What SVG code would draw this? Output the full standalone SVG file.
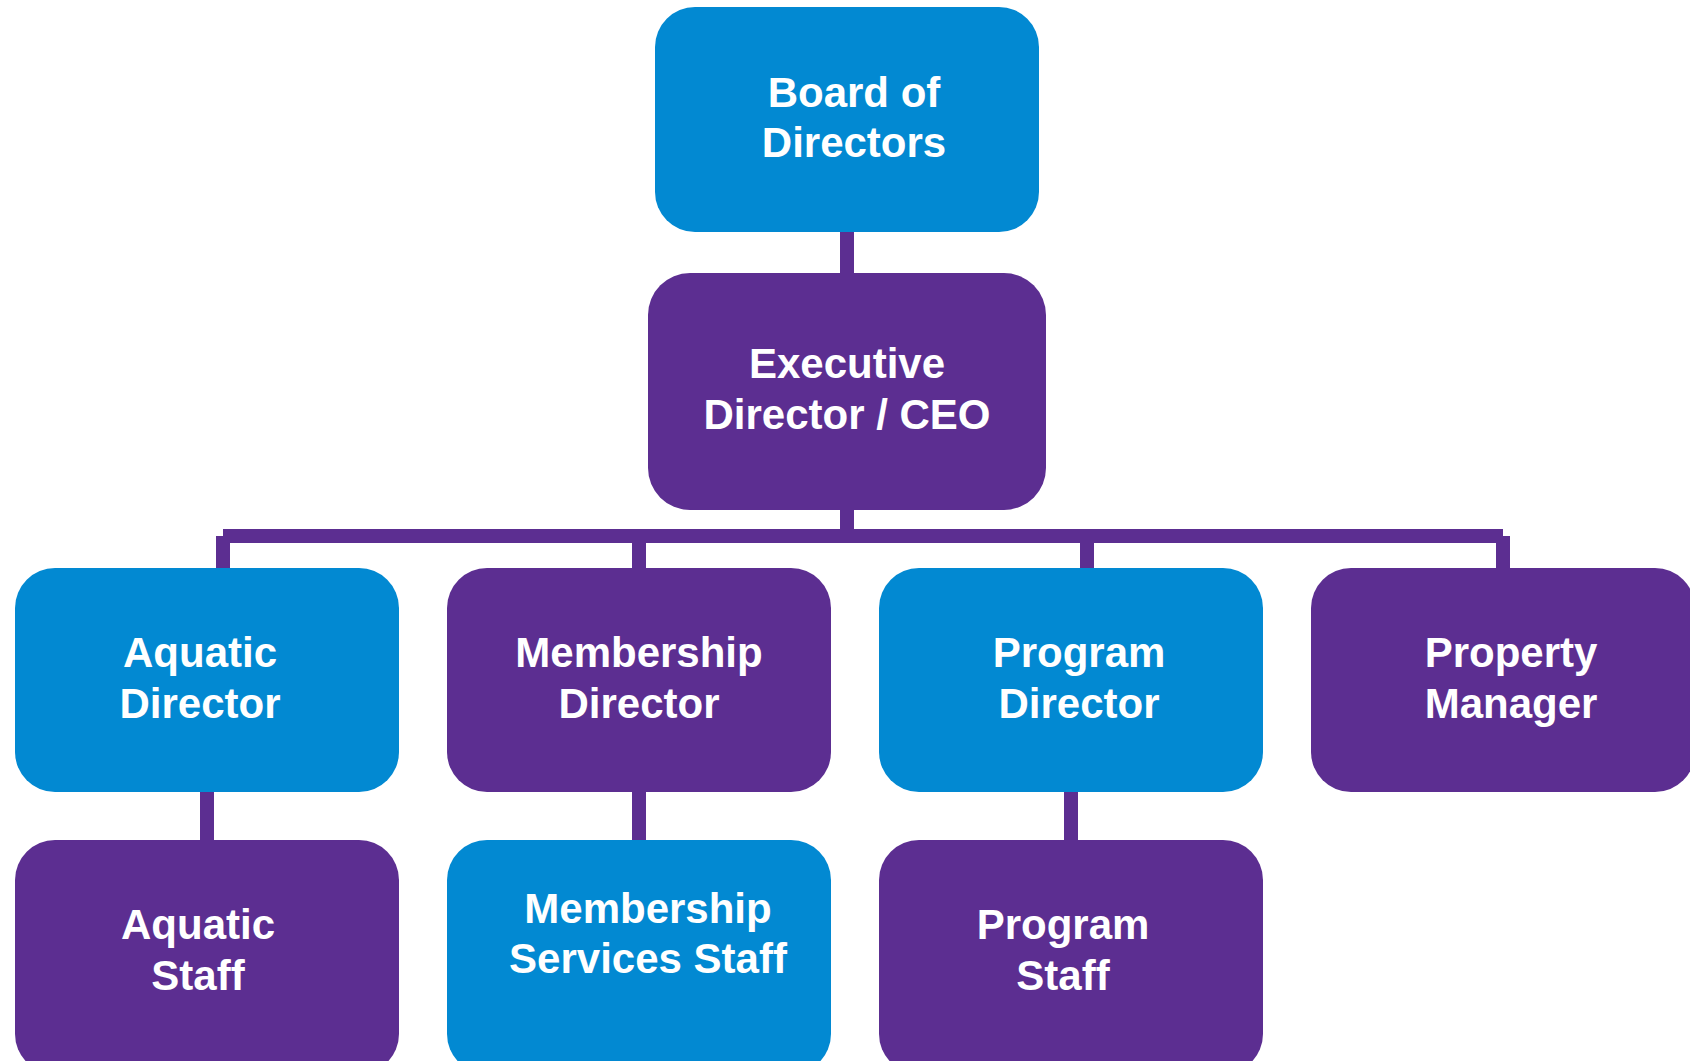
<svg xmlns="http://www.w3.org/2000/svg" width="1690" height="1061" viewBox="0 0 1690 1061">
  <style>
    .blue { fill: #0289D2; }
    .purple { fill: #5C2E91; }
    .lbl { font-family: "Liberation Sans", Arial, sans-serif; font-weight: bold; font-size: 42px; fill: #FFFFFF; text-anchor: middle; }
    .link { stroke: #5C2E91; stroke-width: 14; fill: none; stroke-linecap: butt; }
  </style>
  <rect width="1690" height="1061" fill="#FFFFFF"/>

  <!-- reporting lines -->
  <g id="connectors">
    <line class="link" x1="847" y1="232" x2="847" y2="273"/>
    <line class="link" x1="847" y1="510" x2="847" y2="536"/>
    <line class="link" x1="223" y1="536" x2="1503" y2="536"/>
    <line class="link" x1="223" y1="536" x2="223" y2="568"/>
    <line class="link" x1="639" y1="536" x2="639" y2="568"/>
    <line class="link" x1="1087" y1="536" x2="1087" y2="568"/>
    <line class="link" x1="1503" y1="536" x2="1503" y2="568"/>
    <line class="link" x1="207" y1="792" x2="207" y2="840"/>
    <line class="link" x1="639" y1="792" x2="639" y2="840"/>
    <line class="link" x1="1071" y1="792" x2="1071" y2="840"/>
  </g>

  <g id="board">
    <rect class="blue" x="655" y="7" width="384" height="225" rx="40"/>
    <text class="lbl" x="854" y="107">Board of</text>
    <text class="lbl" x="854" y="157">Directors</text>
  </g>

  <g id="ceo">
    <rect class="purple" x="648" y="273" width="398" height="237" rx="42"/>
    <text class="lbl" x="847" y="378">Executive</text>
    <text class="lbl" x="847" y="429">Director / CEO</text>
  </g>

  <g id="aquatic-director">
    <rect class="blue" x="15" y="568" width="384" height="224" rx="40"/>
    <text class="lbl" x="200" y="667">Aquatic</text>
    <text class="lbl" x="200" y="718">Director</text>
  </g>

  <g id="membership-director">
    <rect class="purple" x="447" y="568" width="384" height="224" rx="40"/>
    <text class="lbl" x="639" y="667">Membership</text>
    <text class="lbl" x="639" y="718">Director</text>
  </g>

  <g id="program-director">
    <rect class="blue" x="879" y="568" width="384" height="224" rx="40"/>
    <text class="lbl" x="1079" y="667">Program</text>
    <text class="lbl" x="1079" y="718">Director</text>
  </g>

  <g id="property-manager">
    <rect class="purple" x="1311" y="568" width="384" height="224" rx="40"/>
    <text class="lbl" x="1511" y="667">Property</text>
    <text class="lbl" x="1511" y="718">Manager</text>
  </g>

  <g id="aquatic-staff">
    <rect class="purple" x="15" y="840" width="384" height="234" rx="40"/>
    <text class="lbl" x="198" y="939">Aquatic</text>
    <text class="lbl" x="198" y="990">Staff</text>
  </g>

  <g id="membership-staff">
    <rect class="blue" x="447" y="840" width="384" height="234" rx="40"/>
    <text class="lbl" x="648" y="923">Membership</text>
    <text class="lbl" x="648" y="973">Services Staff</text>
  </g>

  <g id="program-staff">
    <rect class="purple" x="879" y="840" width="384" height="234" rx="40"/>
    <text class="lbl" x="1063" y="939">Program</text>
    <text class="lbl" x="1063" y="990">Staff</text>
  </g>
</svg>
